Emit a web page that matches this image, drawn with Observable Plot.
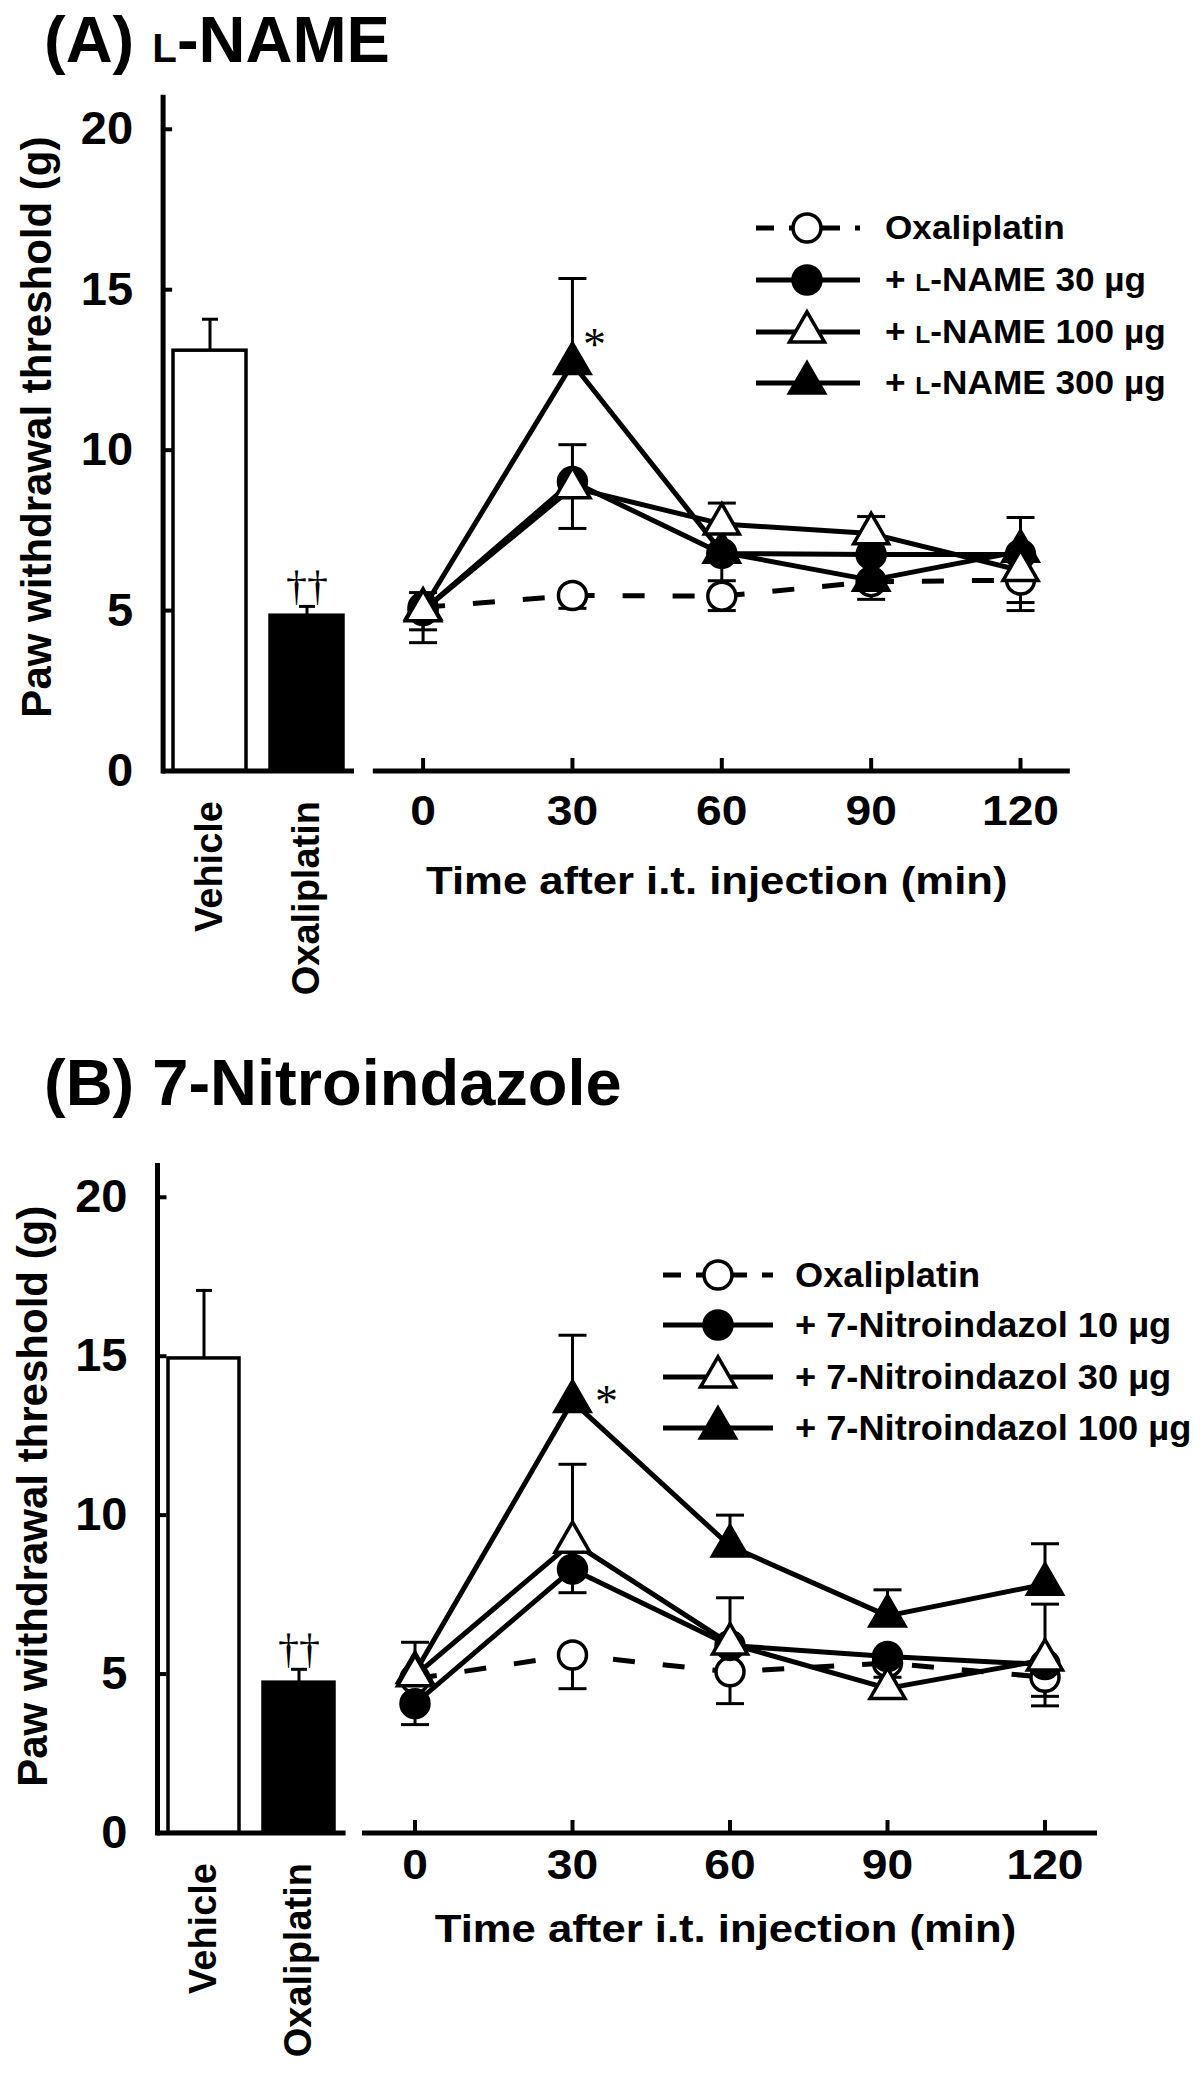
<!DOCTYPE html>
<html>
<head>
<meta charset="utf-8">
<script src="https://cdn.jsdelivr.net/npm/d3@7"></script>
<script src="https://cdn.jsdelivr.net/npm/@observablehq/plot@0.6"></script>
<style>
  html, body { margin: 0; padding: 0; background: #fff; }
  #fig { position: relative; width: 1200px; height: 2081px; background: #fff; overflow: hidden;
         font-family: "Liberation Sans", Arial, sans-serif; font-weight: bold; color: #000; }
  #fig svg { position: absolute; left: 0; }
  .title { position: absolute; font-size: 65px; line-height: 1; white-space: nowrap; }
  .lg { position: absolute; display: flex; align-items: center; white-space: nowrap; }
  .lg span { display: inline-block; transform-origin: left center; }
</style>
</head>
<body>
<div id="fig"></div>
<script>
// ---------------- shared ----------------
const times = [0, 30, 60, 90, 120];
const yTicks = [0, 5, 10, 15, 20];
const barCats = ["Vehicle", "Oxaliplatin"];
const yTitle = "Paw withdrawal threshold (g)";
const xTitle = "Time after i.t. injection (min)";

// ---------------- panel A : L-NAME ----------------
const aTitle = "(A) L-NAME";
const aBarMean = [13.1, 4.84];
const aBarSem = [0.98, 0.29];
const aBarSig = ["", "††"];
const aNames = ["Oxaliplatin", "+ L-NAME 30 µg", "+ L-NAME 100 µg", "+ L-NAME 300 µg"];
const aOxaMean = [5.1, 5.47, 5.45, 5.9, 5.95];
const aOxaUp = [0, 0, 0, 0, 0];
const aOxaDown = [0.7, 0.4, 0.45, 0.55, 0.7];
const aL30Mean = [5.0, 9.02, 6.78, 6.75, 6.75];
const aL30Up = [0, 1.15, 0, 0, 0];
const aL30Down = [1.0, 0, 0.85, 0, 0];
const aL100Mean = [5.0, 8.83, 7.7, 7.4, 6.25];
const aL100Up = [0.56, 0, 0.65, 0.53, 0];
const aL100Down = [0, 1.27, 0, 0, 1.25];
const aL300Mean = [5.05, 12.7, 6.82, 5.95, 6.85];
const aL300Up = [0, 2.65, 0, 0, 1.05];
const aL300Down = [0, 0, 0, 0, 0];
const aL300Sig = ["", "*", "", "", ""];

// ---------------- panel B : 7-Nitroindazole ----------------
const bTitle = "(B) 7-Nitroindazole";
const bBarMean = [14.93, 4.73];
const bBarSem = [2.14, 0.42];
const bBarSig = ["", "††"];
const bNames = ["Oxaliplatin", "+ 7-Nitroindazol 10 µg", "+ 7-Nitroindazol 30 µg", "+ 7-Nitroindazol 100 µg"];
const bOxaMean = [4.85, 5.6, 5.07, 5.35, 4.9];
const bOxaUp = [0, 0, 0, 0, 0];
const bOxaDown = [0, 1.06, 1.0, 0, 0.6];
const bN10Mean = [4.07, 8.3, 5.9, 5.55, 5.3];
const bN10Up = [0, 0, 0, 0, 0];
const bN10Down = [0.66, 0.74, 0, 0.65, 1.3];
const bN30Mean = [4.95, 9.15, 5.95, 4.55, 5.45];
const bN30Up = [0, 2.45, 1.45, 0, 1.75];
const bN30Down = [0, 0, 0, 0, 0];
const bN100Mean = [5.05, 13.58, 9.03, 6.83, 7.83];
const bN100Up = [0.95, 2.08, 0.97, 0.82, 1.27];
const bN100Down = [0, 0, 0, 0, 0];
const bN100Sig = ["", "*", "", "", ""];
const noSig = ["", "", "", "", ""];

// ---------------- styling helpers ----------------
const seriesStyle = [
  {symbol: "circle", fill: "white", r: 14, dash: "22,28"},
  {symbol: "circle", fill: "black", r: 14, dash: null},
  {symbol: "triangle", fill: "white", r: 13, dash: null},
  {symbol: "triangle", fill: "black", r: 13, dash: null}
];
const drawOrder = [0, 3, 1, 2];
const FONT = '"Liberation Sans", Arial, sans-serif';
const SERIF = '"Liberation Serif", "Times New Roman", serif';

const capSym = {draw(ctx, size) { const r = Math.sqrt(size / Math.PI); ctx.moveTo(-r, 0); ctx.lineTo(r, 0); }};
const hTickSym = {draw(ctx, size) { const r = Math.sqrt(size / Math.PI); ctx.moveTo(0, 0); ctx.lineTo(r, 0); }};
const vTickSym = {draw(ctx, size) { const r = Math.sqrt(size / Math.PI); ctx.moveTo(0, 0); ctx.lineTo(0, -r); }};

function scHTML(s, k) {
  return s.replace("L-NAME", `<span style="font-size:${k}em">L</span>-NAME`);
}
// horizontal stretch of an svg text about its anchor point (keeps em-based y/dy)
function stretch(el, sx) {
  const xa = el.getAttribute("x");
  if (xa != null && /^-?[\d.]+$/.test(xa)) el.setAttribute("x", (+xa) / sx);
  const t = el.getAttribute("transform") || "";
  el.setAttribute("transform", `${t} scale(${sx},1)`);
}

const fig = document.getElementById("fig");

function makePanel(p) {
  const baseStyle = {background: "transparent", fontFamily: FONT, fontWeight: "bold", fontSize: "40px", color: "black", overflow: "visible"};
  // ---- bars ----
  const bars = barCats.map((c, i) => ({cat: c, mean: p.barMean[i], sem: p.barSem[i], sig: p.barSig[i]}));
  const barPlot = Plot.plot({
    width: 1200, height: p.height,
    marginLeft: p.bar.left, marginRight: 1200 - p.bar.right,
    marginTop: p.yTop, marginBottom: p.height - p.y0,
    style: baseStyle,
    x: {type: "band", domain: barCats, paddingInner: 0.25, paddingOuter: 0.11},
    y: {domain: [0, 21]},
    color: {domain: barCats, range: ["white", "black"]},
    marks: [
      Plot.ruleX(bars, {x: "cat", y1: "mean", y2: d => d.mean + d.sem, stroke: "black", strokeWidth: 3}),
      Plot.dot(bars, {x: "cat", y: d => d.mean + d.sem, symbol: capSym, r: 8, fill: "none", stroke: "black", strokeWidth: 3}),
      Plot.barY(bars, {x: "cat", y: "mean", fill: "cat", stroke: "black", strokeWidth: 3.5}),
      Plot.text(bars, {x: "cat", y: d => d.mean + d.sem, text: "sig", dy: -20, fontSize: 42, fontFamily: SERIF, fontWeight: "normal"}),
      Plot.frame({anchor: "left", stroke: "black", strokeWidth: 5}),
      Plot.ruleY([0], {stroke: "black", strokeWidth: 5}),
      Plot.dot(yTicks, {y: d => d, frameAnchor: "left", symbol: hTickSym, r: 9, fill: "none", stroke: "black", strokeWidth: 4}),
      Plot.axisY(yTicks, {tickSize: 0, tickPadding: 30, fontSize: 47, label: null}),
      Plot.axisX({tickRotate: -90, tickSize: 0, tickPadding: 30, fontSize: 38, label: null}),
      Plot.text([yTitle], {text: d => d, frameAnchor: "left", textAnchor: "middle", rotate: -90,
        dx: p.yTitleX - p.bar.left, dy: p.yTitleDy, fontSize: 42})
    ]
  });
  barPlot.style.top = p.top + "px";
  fig.appendChild(barPlot);

  // ---- lines ----
  const recs = [];
  p.names.forEach((name, s) => times.forEach((t, i) => recs.push({
    s, name, t, mean: p.means[s][i], up: p.ups[s][i], down: p.downs[s][i], sig: p.sigs[s][i]
  })));
  const upR = recs.filter(d => d.up > 0), downR = recs.filter(d => d.down > 0);
  const linePlot = Plot.plot({
    width: 1200, height: p.height,
    marginLeft: p.line.left, marginRight: 1200 - p.line.right,
    marginTop: p.yTop, marginBottom: p.height - p.y0,
    style: baseStyle,
    x: {domain: [-10, 130]},
    y: {domain: [0, 21], axis: null},
    marks: [
      Plot.ruleY([0], {stroke: "black", strokeWidth: 5}),
      Plot.dot(times, {x: d => d, frameAnchor: "bottom", symbol: vTickSym, r: 13, fill: "none", stroke: "black", strokeWidth: 4}),
      Plot.axisX(times, {tickSize: 0, tickPadding: p.tickPad, fontSize: 42, label: null}),
      Plot.text([xTitle], {text: d => d, frameAnchor: "bottom", textAnchor: "middle", dx: p.xTitleDx, dy: p.xTitleDy, fontSize: 39}),
      Plot.ruleX(upR, {x: "t", y1: "mean", y2: d => d.mean + d.up, stroke: "black", strokeWidth: 3}),
      Plot.dot(upR, {x: "t", y: d => d.mean + d.up, symbol: capSym, r: 14, fill: "none", stroke: "black", strokeWidth: 3}),
      Plot.ruleX(downR, {x: "t", y1: "mean", y2: d => d.mean - d.down, stroke: "black", strokeWidth: 3}),
      Plot.dot(downR, {x: "t", y: d => d.mean - d.down, symbol: capSym, r: 14, fill: "none", stroke: "black", strokeWidth: 3}),
      ...drawOrder.map(s => Plot.line(recs.filter(d => d.s === s), {
        x: "t", y: "mean", stroke: "black", strokeWidth: 5,
        strokeDasharray: seriesStyle[s].dash, strokeLinecap: seriesStyle[s].dash ? "butt" : "round"
      })),
      ...drawOrder.map(s => Plot.dot(recs.filter(d => d.s === s), {
        x: "t", y: "mean", symbol: seriesStyle[s].symbol, r: seriesStyle[s].r,
        fill: seriesStyle[s].fill, stroke: "black", strokeWidth: 3.5
      })),
      Plot.text(recs.filter(d => d.sig), {x: "t", y: "mean", text: "sig", dx: p.sigDx, dy: p.sigDy, fontSize: 46, fontFamily: SERIF, fontWeight: "normal"})
    ]
  });
  linePlot.style.top = p.top + "px";
  fig.appendChild(linePlot);
  linePlot.querySelectorAll('g[aria-label="x-axis tick label"] text').forEach(el => stretch(el, 1.1));
  linePlot.querySelectorAll("text").forEach(el => { if (el.textContent === xTitle) stretch(el, 1.12); });

  // ---- legend (HTML) ----
  const lg = p.legend;
  p.names.forEach((name, s) => {
    const h = 44, w = lg.textX - lg.x1;
    const row = document.createElement("div");
    row.className = "lg";
    row.style.left = lg.x1 + "px";
    row.style.top = (lg.rows[s] - h / 2) + "px";
    row.style.height = h + "px";
    row.style.fontSize = lg.fontSize + "px";
    const st = seriesStyle[s];
    const sym = d3.symbol(st.symbol === "circle" ? d3.symbolCircle : d3.symbolTriangle, Math.PI * st.r * st.r)();
    row.innerHTML =
      `<svg width="${w}" height="${h}" style="position:static;overflow:visible">` +
      `<line x1="0" x2="${lg.x2 - lg.x1}" y1="${h / 2}" y2="${h / 2}" stroke="black" stroke-width="5"` +
      (st.dash ? ` stroke-dasharray="18,15"` : "") + `/>` +
      `<path d="${sym}" transform="translate(${lg.cx - lg.x1},${h / 2})" fill="${st.fill}" stroke="black" stroke-width="3.5"/>` +
      `</svg><span style="transform:scaleX(1.05)">${scHTML(name, 0.7)}</span>`;
    fig.appendChild(row);
  });

  // ---- title ----
  const t = document.createElement("div");
  t.className = "title";
  t.style.left = "44px";
  t.style.top = p.titleTop + "px";
  t.innerHTML = scHTML(p.title, 0.62);
  fig.appendChild(t);
}

makePanel({
  top: 0, height: 1010, y0: 770.5, yTop: 96.7,
  bar: {left: 162.6, right: 354}, line: {left: 372.8, right: 1069.8},
  barMean: aBarMean, barSem: aBarSem, barSig: aBarSig,
  names: aNames,
  means: [aOxaMean, aL30Mean, aL100Mean, aL300Mean],
  ups: [aOxaUp, aL30Up, aL100Up, aL300Up],
  downs: [aOxaDown, aL30Down, aL100Down, aL300Down],
  sigs: [noSig, noSig, noSig, aL300Sig],
  tickPad: 24, xTitleDx: -5, xTitleDy: 123,
  yTitleX: 37, yTitleDy: -7,
  sigDx: 22, sigDy: -18,
  legend: {rows: [228, 280, 332, 383], x1: 756, x2: 860, cx: 807, textX: 885, fontSize: 33.5},
  title: aTitle, titleTop: 7
});

makePanel({
  top: 1040, height: 1041, y0: 792.5, yTop: 125,
  bar: {left: 157, right: 345.6}, line: {left: 362, right: 1097},
  barMean: bBarMean, barSem: bBarSem, barSig: bBarSig,
  names: bNames,
  means: [bOxaMean, bN10Mean, bN30Mean, bN100Mean],
  ups: [bOxaUp, bN10Up, bN30Up, bN100Up],
  downs: [bOxaDown, bN10Down, bN30Down, bN100Down],
  sigs: [noSig, noSig, noSig, bN100Sig],
  tickPad: 16, xTitleDx: -4.5, xTitleDy: 109,
  yTitleX: 33, yTitleDy: -3,
  sigDx: 34, sigDy: 1,
  legend: {rows: [1275, 1325, 1377, 1428], x1: 663, x2: 773, cx: 718, textX: 795, fontSize: 34.5},
  title: bTitle, titleTop: 1050
});
</script>
</body>
</html>
